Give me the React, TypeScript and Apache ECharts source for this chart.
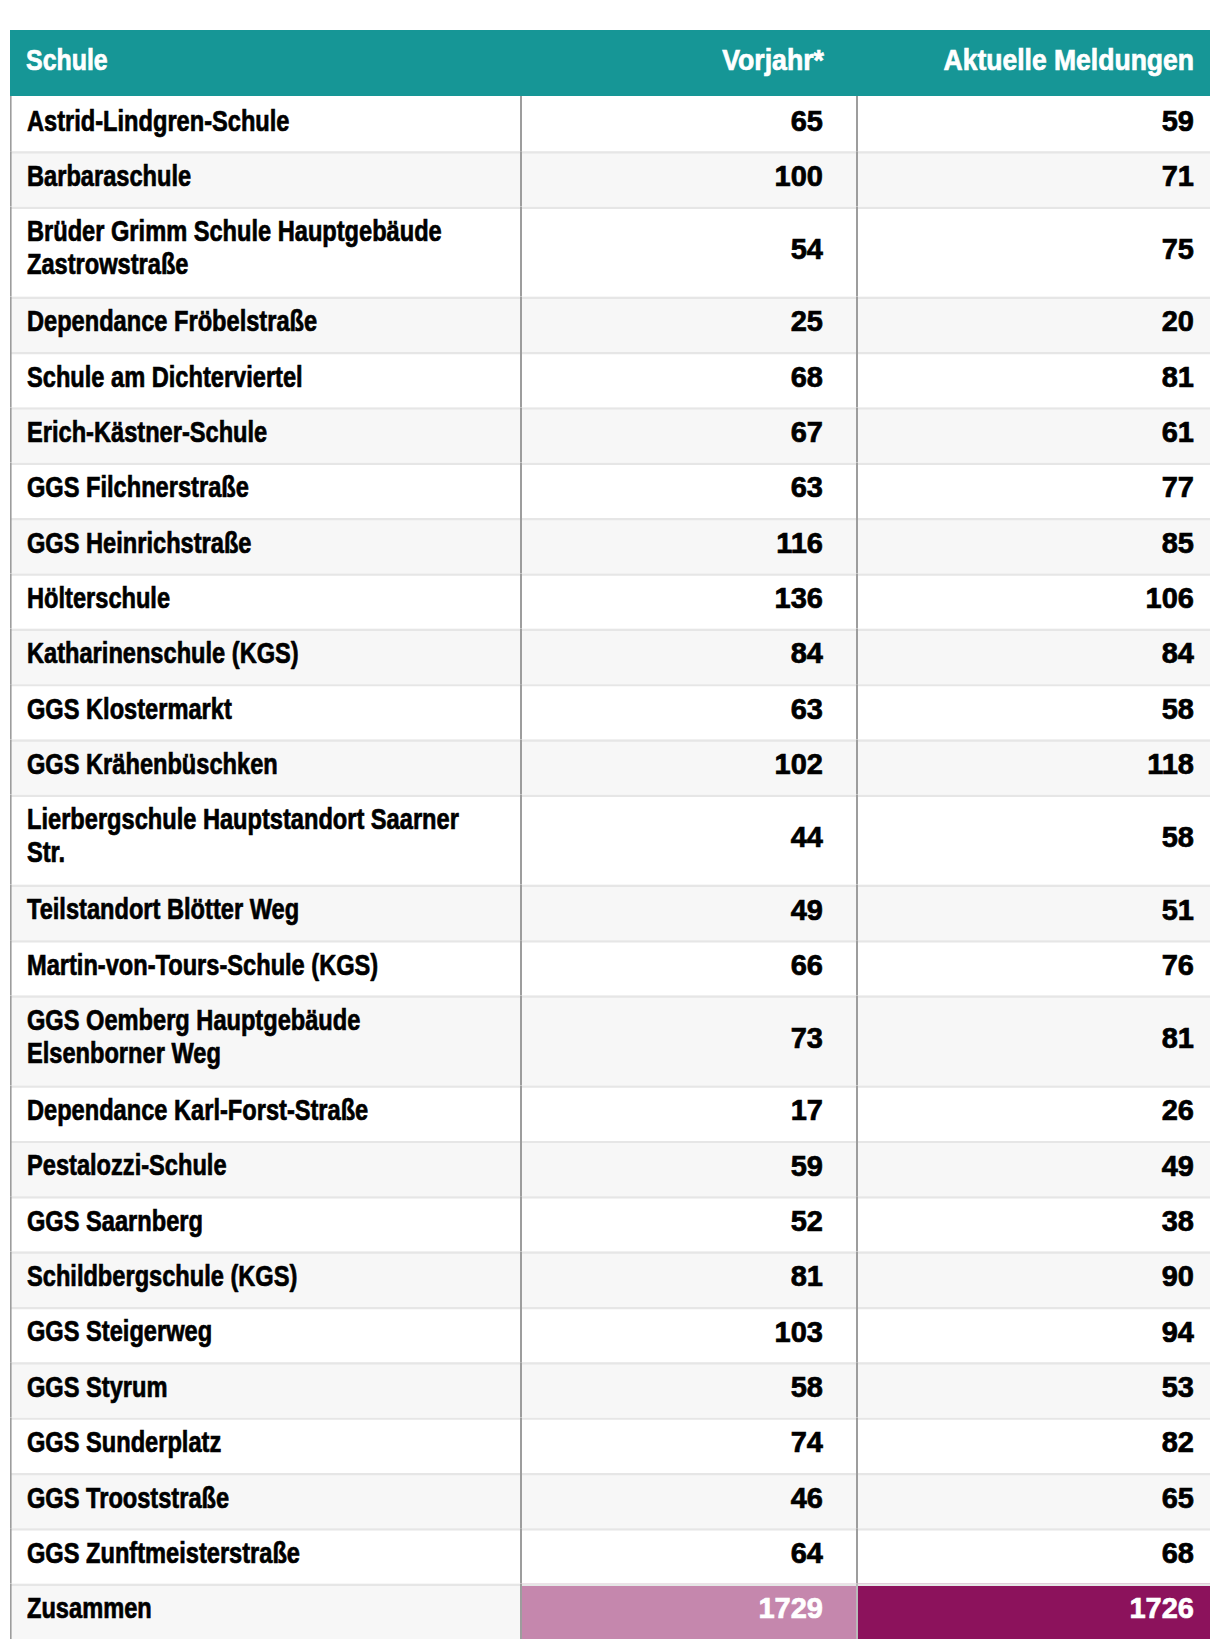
import React, { useEffect, useRef } from "react";
import * as echarts from "echarts";

const headers = ["Schule", "Vorjahr*", "Aktuelle Meldungen"];
const schools = [
  "Astrid-Lindgren-Schule",
  "Barbaraschule",
  "Brüder Grimm Schule Hauptgebäude\nZastrowstraße",
  "Dependance Fröbelstraße",
  "Schule am Dichterviertel",
  "Erich-Kästner-Schule",
  "GGS Filchnerstraße",
  "GGS Heinrichstraße",
  "Hölterschule",
  "Katharinenschule (KGS)",
  "GGS Klostermarkt",
  "GGS Krähenbüschken",
  "Lierbergschule Hauptstandort Saarner\nStr.",
  "Teilstandort Blötter Weg",
  "Martin-von-Tours-Schule (KGS)",
  "GGS Oemberg Hauptgebäude\nElsenborner Weg",
  "Dependance Karl-Forst-Straße",
  "Pestalozzi-Schule",
  "GGS Saarnberg",
  "Schildbergschule (KGS)",
  "GGS Steigerweg",
  "GGS Styrum",
  "GGS Sunderplatz",
  "GGS Trooststraße",
  "GGS Zunftmeisterstraße",
];
const vorjahr = [65, 100, 54, 25, 68, 67, 63, 116, 136, 84, 63, 102, 44, 49, 66, 73, 17, 59, 52, 81, 103, 58, 74, 46, 64];
const aktuell = [59, 71, 75, 20, 81, 61, 77, 85, 106, 84, 58, 118, 58, 51, 76, 81, 26, 49, 38, 90, 94, 53, 82, 65, 68];
const totalLabel = "Zusammen";
const totals = [1729, 1726];

const FONT = "'Liberation Sans', Arial, sans-serif";
const FS = 29;
const TABLE_W = 1200;
const HEADER_H = 66;
const ROW_H = 55.35;
const ROW2_H = 90;
const COL = [0, 511, 847, 1200];
const NUM_RIGHT = [813, 1184];
const NAME_X = 17;
const DY = -3;

type Row = { kind: "header" | "body" | "total"; cells: string[]; h: number };
const rows: Row[] = [
  { kind: "header", cells: headers, h: HEADER_H },
  ...schools.map((s, i) => ({
    kind: "body" as const,
    cells: [s, String(vorjahr[i]), String(aktuell[i])],
    h: s.includes("\n") ? ROW2_H : ROW_H,
  })),
  { kind: "total", cells: [totalLabel, String(totals[0]), String(totals[1])], h: ROW_H },
];
const tops: number[] = [];
let acc = 0;
rows.forEach((r) => {
  tops.push(acc);
  acc += r.h;
});
const TOTAL_H = acc;

function txt(x: number, y: number, text: string, align: string, fill: string, sx: number) {
  return {
    type: "text",
    x,
    y,
    scaleX: sx,
    scaleY: 1,
    originX: 0,
    originY: 0,
    style: {
      x: 0,
      y: 0,
      text,
      fill,
      textFill: fill,
      stroke: fill,
      textStroke: fill,
      lineWidth: 0.7,
      textStrokeWidth: 0.7,
      align,
      textAlign: align,
      verticalAlign: "middle",
      textVerticalAlign: "middle",
      fontSize: FS,
      fontWeight: "bold",
      fontFamily: FONT,
      lineHeight: 33,
      textLineHeight: 33,
    },
  };
}

export default function App() {
  const ref = useRef<HTMLDivElement>(null);
  useEffect(() => {
    if (!ref.current) return;
    const chart = echarts.init(ref.current, null, { renderer: "svg" });
    const renderItem = (params: any, api: any) => {
      const i = api.value(0);
      const r = rows[i];
      const y0 = tops[i];
      const y1 = y0 + r.h;
      const P = (x: number, y: number) => api.coord([x, y]);
      const rect = (x0: number, x1: number, ya: number, yb: number, fill: string) => {
        const p = P(x0, ya);
        const q = P(x1, yb);
        return { type: "rect", shape: { x: p[0], y: p[1], width: q[0] - p[0], height: q[1] - p[1] }, style: { fill } };
      };
      const children: any[] = [];
      const mid = P(0, (y0 + y1) / 2)[1] + DY;
      if (r.kind === "header") {
        children.push(rect(0, TABLE_W, y0, y1, "#169696"));
        children.push(txt(P(NAME_X - 1, 0)[0], mid, r.cells[0], "left", "#ffffff", 0.86));
        children.push(txt(P(NUM_RIGHT[0] + 1, 0)[0], mid, r.cells[1], "right", "#ffffff", 0.92));
        children.push(txt(P(NUM_RIGHT[1], 0)[0], mid, r.cells[2], "right", "#ffffff", 0.915));
      } else {
        const bg = (i - 1) % 2 === 0 ? "#ffffff" : "#f7f7f7";
        children.push(rect(0, TABLE_W, y0, y1, bg));
        let textFillNum = "#000000";
        if (r.kind === "total") {
          children.push(rect(COL[1], COL[2], y0, y1, "#c587ad"));
          children.push(rect(COL[2], COL[3], y0, y1, "#8c125c"));
          textFillNum = "#ffffff";
        }
        if (i > 1) children.push(rect(0, TABLE_W, y0, y0 + 2.2, "#e6e6e6"));
        children.push(rect(0, 1.6, y0, y1, "#9d9d9d"));
        children.push(rect(COL[1] - 1, COL[1] + 1, y0, y1, "#9d9d9d"));
        children.push(rect(COL[2] - 1, COL[2] + 1, y0, y1, r.kind === "total" ? "#b9b9b9" : "#9d9d9d"));
        children.push(txt(P(NAME_X, 0)[0], mid - (r.h > ROW_H ? 1 : 0), r.cells[0], "left", "#000000", 0.815));
        children.push(txt(P(NUM_RIGHT[0], 0)[0], mid, r.cells[1], "right", textFillNum, 1));
        children.push(txt(P(NUM_RIGHT[1], 0)[0], mid, r.cells[2], "right", textFillNum, 1));
      }
      return { type: "group", children };
    };
    chart.setOption({
      animation: false,
      grid: { left: 2, top: 22, width: TABLE_W, height: TOTAL_H, containLabel: false },
      xAxis: { type: "value", min: 0, max: TABLE_W, show: false },
      yAxis: { type: "value", min: 0, max: TOTAL_H, inverse: true, show: false },
      series: [
        {
          type: "custom",
          silent: true,
          clip: false,
          renderItem,
          data: rows.map((_, i) => [i]),
        },
      ],
    });
    return () => chart.dispose();
  }, []);
  return <div ref={ref} style={{ width: 1204, height: 1634 }} />;
}
